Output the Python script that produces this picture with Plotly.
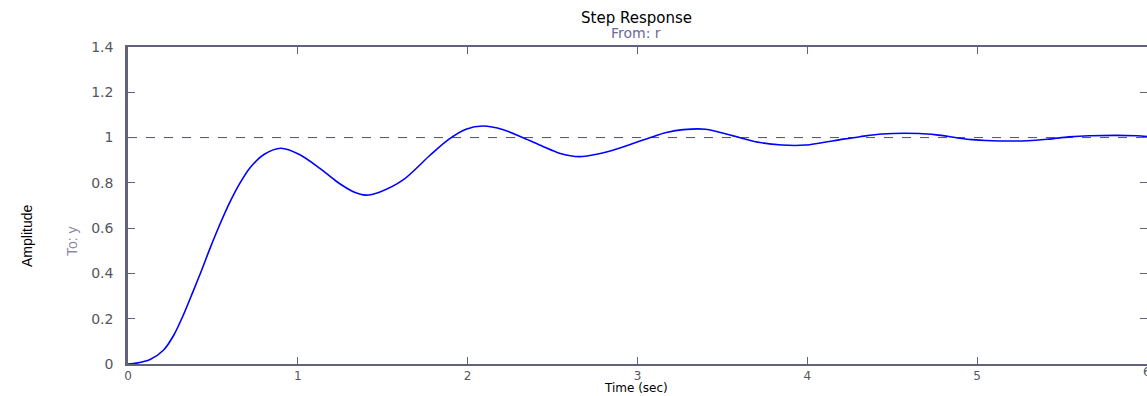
import plotly.graph_objects as go

# Step response samples
time_s = [0.0, 0.05, 0.13, 0.21, 0.27, 0.325, 0.384, 0.433, 0.48, 0.54, 0.60, 0.66,
          0.72, 0.80, 0.90, 1.01, 1.13, 1.23, 1.33, 1.40, 1.48, 1.62, 1.78, 1.89,
          1.99, 2.09, 2.21, 2.33, 2.44, 2.54, 2.66, 2.85, 2.99, 3.09, 3.17, 3.27,
          3.40, 3.60, 3.72, 3.85, 3.99, 4.21, 4.31, 4.44, 4.66, 4.76, 4.84, 4.91,
          4.97, 5.05, 5.30, 5.42, 5.54, 5.66, 5.94, 6.0]
amplitude = [0.0, 0.004, 0.02, 0.062, 0.128, 0.215, 0.322, 0.413, 0.505, 0.615, 0.715, 0.80,
             0.868, 0.925, 0.953, 0.925, 0.864, 0.805, 0.760, 0.746, 0.759, 0.813, 0.923, 0.993,
             1.037, 1.051, 1.035, 0.998, 0.962, 0.931, 0.916, 0.943, 0.978, 1.004, 1.022, 1.035,
             1.037, 1.0, 0.978, 0.967, 0.967, 0.993, 1.004, 1.016, 1.018, 1.012, 1.004, 0.996,
             0.991, 0.987, 0.986, 0.993, 1.003, 1.008, 1.008, 1.004]
final_value = 1.0
x_ticks = [0, 1, 2, 3, 4, 5, 6]
y_ticks = [0, 0.2, 0.4, 0.6, 0.8, 1.0, 1.2, 1.4]
y_tick_text = ["0", "0.2", "0.4", "0.6", "0.8", "1", "1.2", "1.4"]

AX = "#62627f"
LBL = "#55555f"
FONT = "DejaVu Sans, Liberation Sans, sans-serif"
NARROW = "Liberation Sans Narrow, Liberation Sans, sans-serif"

fig = go.Figure()
fig.add_trace(go.Scatter(x=[x_ticks[0], x_ticks[-1]], y=[final_value, final_value],
                         mode="lines", line=dict(color="#505060", width=1, dash="dash"),
                         hoverinfo="skip", showlegend=False))
fig.add_trace(go.Scatter(x=time_s, y=amplitude, mode="lines", line_shape="spline",
                         line=dict(color="#0000ff", width=1.6, smoothing=0.8),
                         showlegend=False))
# invisible trace to carry right-side ticks (ticks without axis line)
fig.add_trace(go.Scatter(x=[0], y=[0], yaxis="y2", mode="markers",
                         marker=dict(opacity=0), showlegend=False, hoverinfo="skip"))

plot_h = 396 - 47 - 32
plot_w = 1147 - 128


def py(pix_y):
    return (364 - pix_y) / plot_h


def px(pix_x):
    return (pix_x - 128) / plot_w


fig.update_layout(
    width=1147, height=396,
    margin=dict(l=128, r=0, t=47, b=32),
    paper_bgcolor="white", plot_bgcolor="white",
    font=dict(family=FONT, size=12, color=LBL),
    xaxis=dict(range=[0, 6], tickvals=x_ticks, ticktext=[str(v) for v in x_ticks],
               ticks="inside", ticklen=7, tickcolor=AX, tickwidth=1,
               showline=True, linecolor=AX, linewidth=1.5, mirror="ticks",
               showgrid=False, zeroline=False, ticklabelstandoff=0,
               tickfont=dict(size=12, color=LBL, family=FONT)),
    yaxis=dict(range=[0, 1.4], tickvals=y_ticks, ticktext=y_tick_text,
               ticks="inside", ticklen=7, tickcolor=AX, tickwidth=1,
               showline=True, linecolor=AX, linewidth=2.5,
               showgrid=False, zeroline=False, ticklabelstandoff=9,
               tickfont=dict(size=14, color=LBL, family=FONT)),
    yaxis2=dict(range=[0, 1.4], overlaying="y", side="right", tickvals=y_ticks,
                ticks="inside", ticklen=7, tickcolor=AX, tickwidth=1,
                showticklabels=False, showline=False, showgrid=False, zeroline=False),
    annotations=[
        dict(text="Step Response", x=px(636), y=py(18), xref="paper", yref="paper",
             showarrow=False, yanchor="middle",
             font=dict(size=15, color="black", family=FONT)),
        dict(text="From: r", x=px(636), y=py(33), xref="paper", yref="paper",
             showarrow=False, yanchor="middle",
             font=dict(size=14, color="#6a6a98", family=FONT)),
        dict(text="Time (sec)", x=px(636), y=py(388), xref="paper", yref="paper",
             showarrow=False, yanchor="middle",
             font=dict(size=12, color="black", family=FONT)),
        dict(text="Amplitude", x=px(17), y=py(236), xref="paper", yref="paper",
             showarrow=False, textangle=-90,
             font=dict(size=14, color="black", family=NARROW)),
        dict(text="To: y", x=px(62), y=py(241), xref="paper", yref="paper",
             showarrow=False, textangle=-90,
             font=dict(size=14, color="#8a8aa8", family=NARROW)),
        dict(text=str(x_ticks[-1]), x=x_ticks[-1], xref="x", y=py(372), yref="paper",
             showarrow=False, xanchor="center", yanchor="middle",
             font=dict(size=12, color=LBL, family=FONT)),
    ],
)

fig.write_html("out.html", config={"displayModeBar": False},
               post_script="document.body.style.margin='0';")
